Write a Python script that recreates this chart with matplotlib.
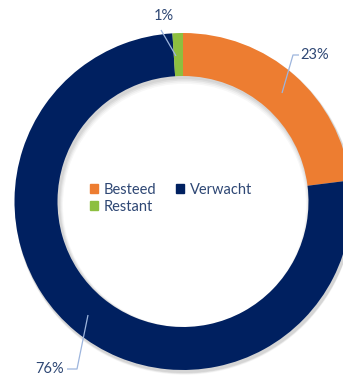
import matplotlib
matplotlib.use("Agg")
import matplotlib.pyplot as plt
from matplotlib.patches import Patch

# Budget split
categories = ["Besteed", "Verwacht", "Restant"]
values = [23, 76, 1]
colors = ["#ED7D31", "#002060", "#8DBF3F"]
labels = ["23%", "76%", "1%"]

plt.rcParams["font.family"] = ["Lato", "DejaVu Sans"]
text_color = "#2E4774"
line_color = "#9DB5DD"

W, H = 343, 376
fig = plt.figure(figsize=(W / 100, H / 100), dpi=100)
ax = fig.add_axes([0, 0, 1, 1])

cx, cy = 183, H - 201.5
R, ring = 168.5, 43

# soft shadow under the ring
for i, a in enumerate([0.05, 0.05, 0.04, 0.03]):
    ax.pie([1], radius=R + 1, center=(cx + 1.5, cy - 2 - i * 0.6), colors=["#000000"],
           wedgeprops=dict(width=ring + 2 + i, alpha=a, linewidth=0))

wedges, _ = ax.pie(values, radius=R, center=(cx, cy), colors=colors,
                   startangle=90, counterclock=False,
                   wedgeprops=dict(width=ring, linewidth=0))

ax.set_xlim(0, W)
ax.set_ylim(0, H)
ax.set_aspect("equal")
ax.axis("off")

# value labels with leader lines (points given top-down, flipped to y-up)
def leader(text, tx, ty, pts, ha):
    xs = [p[0] for p in pts]
    ys = [H - p[1] for p in pts]
    ax.plot(xs, ys, color=line_color, lw=0.9, solid_capstyle="butt")
    ax.text(tx, H - ty, text, ha=ha, va="center", fontsize=10.5, color=text_color)

leader(labels[2], 164, 16, [(161, 30), (176, 56)], "center")
leader(labels[0], 300, 55, [(299, 55), (293, 55), (282, 93)], "left")
leader(labels[1], 64, 369, [(67, 369), (77, 369), (88, 315)], "right")

handles = [Patch(color=colors[0]), Patch(color=colors[2]), Patch(color=colors[1])]
names = [categories[0], categories[2], categories[1]]
leg = ax.legend(handles, names, ncol=2, loc="center", bbox_to_anchor=(171 / W, 1 - 198.5 / H),
                frameon=False, fontsize=10.5, handlelength=0.55, handleheight=0.55,
                handletextpad=0.4, columnspacing=1.3, labelspacing=0.2,
                borderaxespad=0)
for t in leg.get_texts():
    t.set_color(text_color)

fig.savefig("out.png", dpi=100)
